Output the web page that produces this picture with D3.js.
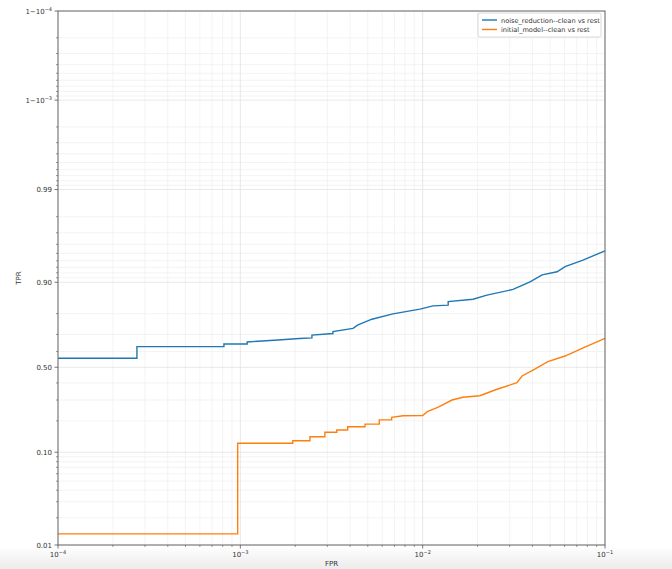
<!DOCTYPE html>
<html><head><meta charset="utf-8">
<script src="https://cdn.jsdelivr.net/npm/d3@7"></script>
<style>
body{margin:0;background:#fff;}
svg{display:block;font-family:"DejaVu Sans",sans-serif;}
</style></head>
<body><svg id="c" width="672" height="569"></svg>
<script>
// ---- data ----
const seriesNames = ["noise_reduction--clean vs rest", "initial_model--clean vs rest"];
const seriesColors = ["#1f77b4", "#ff7f0e"];

const noiseFPR = [1e-4, 2.71e-4, 2.71e-4, 8.13e-4, 8.13e-4, 1.09e-3, 1.09e-3, 1.61e-3, 2.11e-3, 2.47e-3, 2.47e-3, 3.22e-3, 3.22e-3, 4.15e-3, 4.42e-3, 5.27e-3, 6.87e-3, 9.66e-3, 1.14e-2, 1.38e-2, 1.38e-2, 1.89e-2, 2.25e-2, 3.13e-2, 3.88e-2, 4.52e-2, 5.46e-2, 6.04e-2, 7.57e-2, 0.1];
const noiseTPR = [0.558, 0.558, 0.630, 0.630, 0.646, 0.646, 0.658, 0.669, 0.678, 0.681, 0.697, 0.705, 0.716, 0.732, 0.749, 0.776, 0.799, 0.818, 0.830, 0.833, 0.845, 0.853, 0.866, 0.882, 0.901, 0.916, 0.922, 0.931, 0.941, 0.953];

const initFPR = [1e-4, 9.67e-4, 9.67e-4, 1.94e-3, 1.94e-3, 2.41e-3, 2.41e-3, 2.91e-3, 2.91e-3, 3.38e-3, 3.38e-3, 3.88e-3, 3.88e-3, 4.83e-3, 4.83e-3, 5.78e-3, 5.78e-3, 6.76e-3, 6.76e-3, 7.80e-3, 1.0e-2, 1.06e-2, 1.21e-2, 1.45e-2, 1.66e-2, 2.06e-2, 2.49e-2, 3.29e-2, 3.51e-2, 4.03e-2, 4.86e-2, 6.04e-2, 7.48e-2, 0.1];
const initTPR = [0.0133, 0.0133, 0.1228, 0.1228, 0.1303, 0.1303, 0.1425, 0.1425, 0.157, 0.157, 0.165, 0.165, 0.177, 0.177, 0.187, 0.187, 0.204, 0.204, 0.215, 0.222, 0.223, 0.241, 0.262, 0.300, 0.315, 0.324, 0.357, 0.402, 0.444, 0.482, 0.536, 0.572, 0.620, 0.679];

const xTickValues = [1e-4, 1e-3, 1e-2, 1e-1];
const xTickExps = ["−4", "−3", "−2", "−1"];
const yTickValues = [0.01, 0.10, 0.50, 0.90, 0.99, 0.999, 0.9999];
const yTickLabels = ["0.01", "0.10", "0.50", "0.90", "0.99", "1−10^−3", "1−10^−4"];
const yMinorValues = [0.02,0.03,0.04,0.05,0.06,0.07,0.08,0.09, 0.2,0.3,0.4, 0.6,0.7,0.8,
  0.91,0.92,0.93,0.94,0.95,0.96,0.97,0.98, 0.991,0.992,0.993,0.994,0.995,0.996,0.997,0.998,
  0.9991,0.9992,0.9993,0.9994,0.9995,0.9996,0.9997,0.9998];
const xLabel = "FPR", yLabel = "TPR";

// ---- layout ----
const W = 672, H = 569;
const m = {left: 58, right: 605, top: 11, bottom: 545};
const svg = d3.select("#c");

// bottom screenshot shade
const defs = svg.append("defs");
const g0 = defs.append("linearGradient").attr("id","shade").attr("x1",0).attr("y1",0).attr("x2",0).attr("y2",1);
g0.append("stop").attr("offset","0%").attr("stop-color","#ffffff");
g0.append("stop").attr("offset","100%").attr("stop-color","#ebebeb");
svg.append("rect").attr("x",0).attr("y",546).attr("width",W).attr("height",H-546).attr("fill","url(#shade)");

const logit = p => Math.log(p/(1-p));
const x = d3.scaleLog().domain([1e-4, 1e-1]).range([m.left, m.right]);
const yLin = d3.scaleLinear().domain([logit(0.01), logit(0.9999)]).range([m.bottom, m.top]);
const y = p => yLin(logit(p));

const xMinor = [];
for (let e = -4; e < -1; e++) for (let k = 2; k <= 9; k++) xMinor.push(k * Math.pow(10, e));

const grid = svg.append("g");
// minor grid
grid.selectAll("line.xm").data(xMinor).join("line")
  .attr("x1", d=>x(d)).attr("x2", d=>x(d)).attr("y1", m.top).attr("y2", m.bottom)
  .attr("stroke", "#f0f0f0").attr("stroke-width", 0.8);
grid.selectAll("line.ym").data(yMinorValues).join("line")
  .attr("y1", d=>y(d)).attr("y2", d=>y(d)).attr("x1", m.left).attr("x2", m.right)
  .attr("stroke", "#f0f0f0").attr("stroke-width", 0.8);
// major grid
grid.selectAll("line.xM").data(xTickValues).join("line")
  .attr("x1", d=>x(d)).attr("x2", d=>x(d)).attr("y1", m.top).attr("y2", m.bottom)
  .attr("stroke", "#e2e2e2").attr("stroke-width", 0.8);
grid.selectAll("line.yM").data(yTickValues).join("line")
  .attr("y1", d=>y(d)).attr("y2", d=>y(d)).attr("x1", m.left).attr("x2", m.right)
  .attr("stroke", "#e2e2e2").attr("stroke-width", 0.8);

// curves
const line = d3.line().x(d=>x(d[0])).y(d=>y(d[1]));
const series = [d3.zip(noiseFPR, noiseTPR), d3.zip(initFPR, initTPR)];
series.forEach((s,i)=>{
  svg.append("path").datum(s).attr("d", line).attr("fill","none")
    .attr("stroke", seriesColors[i]).attr("stroke-width", 1.4).attr("stroke-linejoin","miter");
});

// frame
svg.append("rect").attr("x", m.left).attr("y", m.top).attr("width", m.right-m.left).attr("height", m.bottom-m.top)
  .attr("fill","none").attr("stroke","#6a6a6a").attr("stroke-width",1);

// ticks
const tickCol = "#555";
svg.selectAll("line.xt").data(xTickValues).join("line")
  .attr("x1", d=>x(d)).attr("x2", d=>x(d)).attr("y1", m.bottom).attr("y2", m.bottom+3.5).attr("stroke", tickCol).attr("stroke-width",0.8);
svg.selectAll("line.xtm").data(xMinor).join("line")
  .attr("x1", d=>x(d)).attr("x2", d=>x(d)).attr("y1", m.bottom).attr("y2", m.bottom+2).attr("stroke", tickCol).attr("stroke-width",0.6);
svg.selectAll("line.yt").data(yTickValues).join("line")
  .attr("y1", d=>y(d)).attr("y2", d=>y(d)).attr("x1", m.left-3.5).attr("x2", m.left).attr("stroke", tickCol).attr("stroke-width",0.8);
svg.selectAll("line.ytm").data(yMinorValues).join("line")
  .attr("y1", d=>y(d)).attr("y2", d=>y(d)).attr("x1", m.left-2).attr("x2", m.left).attr("stroke", tickCol).attr("stroke-width",0.6);

// tick labels
const fs = 7, txtCol = "#333";
const xl = svg.selectAll("text.xl").data(xTickValues).join("text")
  .attr("x", d=>x(d)).attr("y", 557).attr("text-anchor","middle")
  .attr("font-size", fs).attr("fill", txtCol);
xl.append("tspan").text("10");
xl.append("tspan").attr("font-size", 5).attr("dy", -3).text((d,i)=>xTickExps[i]);

const yl = svg.selectAll("text.yl").data(yTickValues).join("text")
  .attr("x", m.left-6).attr("y", d=>y(d)+2.5).attr("text-anchor","end")
  .attr("font-size", fs).attr("fill", txtCol);
yl.each(function(d,i){
  const t = d3.select(this), lab = yTickLabels[i];
  if (lab.includes("^")) {
    const [base, exp] = lab.split("^");
    t.append("tspan").text(base);
    t.append("tspan").attr("font-size", 5).attr("dy", -3).text(exp);
  } else t.text(lab);
});

// axis labels
svg.append("text").attr("x", (m.left+m.right)/2).attr("y", 566).attr("text-anchor","middle")
  .attr("font-size", 7).attr("fill", txtCol).text(xLabel);
svg.append("text").attr("transform", `translate(21,${(m.top+m.bottom)/2}) rotate(-90)`).attr("text-anchor","middle")
  .attr("font-size", 7).attr("fill", txtCol).text(yLabel);

// legend
const lg = svg.append("g");
lg.append("rect").attr("x", 478).attr("y", 13).attr("width", 123).attr("height", 24).attr("rx", 2)
  .attr("fill", "#fff").attr("fill-opacity", 0.85).attr("stroke", "#d0d0d0").attr("stroke-width", 0.8);
seriesNames.forEach((n,i)=>{
  const yy = 20 + i*9.5;
  lg.append("line").attr("x1", 482).attr("x2", 497).attr("y1", yy).attr("y2", yy)
    .attr("stroke", seriesColors[i]).attr("stroke-width", 1.4);
  lg.append("text").attr("x", 501).attr("y", yy+2.5).attr("font-size", 6.6).attr("fill", txtCol).text(n);
});
</script></body></html>
